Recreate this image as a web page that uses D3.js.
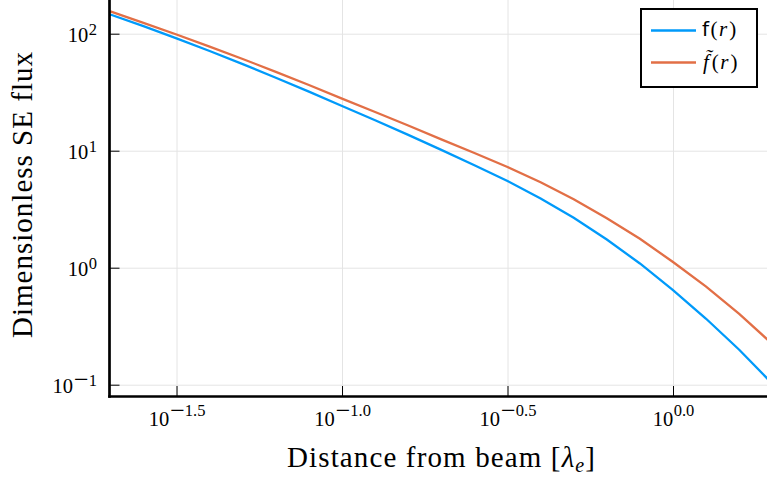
<!DOCTYPE html>
<html><head><meta charset="utf-8">
<script src="https://cdn.jsdelivr.net/npm/d3@7"></script>
<style>body{margin:0;background:#fff} svg{display:block}</style>
</head><body><svg id="c" width="767" height="479"></svg>
<script>
// distance from beam [lambda_e]
const distance = [0.01995, 0.02512, 0.03162, 0.03981, 0.05012, 0.0631, 0.07943, 0.1, 0.1259, 0.1585,
                  0.1995, 0.2512, 0.3162, 0.3981, 0.5012, 0.631, 0.7943, 1.0, 1.259, 1.585, 1.995];
// f(r)
const fluxF = [145.9, 115.9, 91.2, 71.1, 54.95, 42.07, 31.99, 24.10, 18.20, 13.65,
               10.16, 7.52, 5.51, 3.90, 2.67, 1.74, 1.087, 0.644, 0.366, 0.199, 0.102];
// f~(r)
const fluxFt = [154.9, 123.9, 98.4, 77.6, 60.8, 47.2, 36.4, 27.9, 21.4, 16.4,
                12.5, 9.55, 7.26, 5.38, 3.85, 2.65, 1.766, 1.119, 0.690, 0.403, 0.223];
const xTicks = [0.031623, 0.1, 0.316228, 1.0];
const xTickExp = [["\u2212", "1.5"], ["\u2212", "1.0"], ["\u2212", "0.5"], ["", "0.0"]];
const yTicks = [0.1, 1, 10, 100];
const yTickExp = [["\u2212", "1"], ["", "0"], ["", "1"], ["", "2"]];
const colF = "#009AFA", colFt = "#E26F46";

const svg = d3.select("#c");
const L = 109.5, R = 767, T = 0, B = 396;
const x = d3.scaleLog().domain([Math.pow(10, -1.7025), Math.pow(10, 0.284)]).range([L, R]);
const y = d3.scaleLog().domain([Math.pow(10, -1.0966), Math.pow(10, 2.288)]).range([B, T]);
const serif = "'Liberation Serif', 'Times New Roman', serif";

// grid
const gx = svg.append("g").attr("transform", `translate(0,${B})`)
  .call(d3.axisBottom(x).tickValues(xTicks).tickSize(-(B - T)).tickFormat(""));
gx.select(".domain").remove();
gx.selectAll("line").attr("stroke", "#e4e4e4").attr("stroke-width", 1);
const gy = svg.append("g").attr("transform", `translate(${L},0)`)
  .call(d3.axisLeft(y).tickValues(yTicks).tickSize(-(R - L)).tickFormat(""));
gy.select(".domain").remove();
gy.selectAll("line").attr("stroke", "#e4e4e4").attr("stroke-width", 1);

// lines
svg.append("clipPath").attr("id", "clip").append("rect")
  .attr("x", L).attr("y", T).attr("width", R - L).attr("height", B - T);
const line = d3.line().x(d => x(d[0])).y(d => y(d[1]));
const plot = svg.append("g").attr("clip-path", "url(#clip)");
plot.append("path").datum(distance.map((d, i) => [d, fluxF[i]]))
  .attr("d", line).attr("fill", "none").attr("stroke", colF).attr("stroke-width", 2.3);
plot.append("path").datum(distance.map((d, i) => [d, fluxFt[i]]))
  .attr("d", line).attr("fill", "none").attr("stroke", colFt).attr("stroke-width", 2.3);

function addPow(t, exp, dy) {
  t.append("tspan").text("10");
  if (exp[0]) {
    t.append("tspan").attr("dy", dy + 2.5).attr("dx", 1).attr("font-size", 26).text(exp[0]);
    t.append("tspan").attr("dy", -2.5).attr("font-size", 16.5).text(exp[1]);
  } else {
    t.append("tspan").attr("dy", dy).attr("dx", 0.5).attr("font-size", 16.5).text(exp[1]);
  }
}

// axes
const ax = svg.append("g").attr("transform", `translate(0,${B})`)
  .call(d3.axisBottom(x).tickValues(xTicks).tickSize(-10).tickSizeOuter(0).tickFormat(""));
ax.select(".domain").attr("stroke", "#000").attr("stroke-width", 2.7).attr("d", `M${L - 1.3},0.5H${R}`);
ax.selectAll(".tick line").attr("stroke", "#000").attr("stroke-width", 1);
ax.selectAll(".tick text").remove();
ax.selectAll(".tick").each(function(d, i) {
  const t = d3.select(this).append("text").attr("y", 29.5).attr("fill", "#000")
    .attr("text-anchor", "middle").attr("font-family", serif).attr("font-size", 20.5);
  addPow(t, xTickExp[i], -9.5);
});
const ay = svg.append("g").attr("transform", `translate(${L},0)`)
  .call(d3.axisLeft(y).tickValues(yTicks).tickSize(-10).tickSizeOuter(0).tickFormat(""));
ay.select(".domain").attr("stroke", "#000").attr("stroke-width", 2.7).attr("d", `M0,${T}V${B + 1.8}`);
ay.selectAll(".tick line").attr("stroke", "#000").attr("stroke-width", 1);
ay.selectAll(".tick text").remove();
ay.selectAll(".tick").each(function(d, i) {
  const t = d3.select(this).append("text").attr("x", -12.5).attr("y", 8).attr("fill", "#000")
    .attr("text-anchor", "end").attr("font-family", serif).attr("font-size", 20.5);
  addPow(t, yTickExp[i], -7.5);
});

// axis titles
const xt = svg.append("text").attr("x", 441).attr("y", 467).attr("text-anchor", "middle")
  .attr("font-family", serif).attr("font-size", 29).attr("fill", "#000")
  .attr("textLength", 308).attr("lengthAdjust", "spacing");
xt.append("tspan").text("Distance from beam [");
xt.append("tspan").attr("font-style", "italic").text("\u03bb");
xt.append("tspan").attr("font-style", "italic").attr("font-size", 20).attr("dy", 5).text("e");
xt.append("tspan").attr("dy", -5).text("]");

svg.append("text").attr("transform", "translate(32,195) rotate(-90)").attr("text-anchor", "middle")
  .attr("font-family", serif).attr("font-size", 29).attr("fill", "#000")
  .attr("textLength", 286).attr("lengthAdjust", "spacing")
  .text("Dimensionless SE flux");

// legend
const lg = svg.append("g");
lg.append("rect").attr("x", 641).attr("y", 9).attr("width", 116).attr("height", 78)
  .attr("fill", "#fff").attr("stroke", "#000").attr("stroke-width", 2);
const legRows = [
  {c: colF, y: 30.5},
  {c: colFt, y: 62.5}
];
legRows.forEach(r => {
  lg.append("line").attr("x1", 651).attr("x2", 696).attr("y1", r.y).attr("y2", r.y)
    .attr("stroke", r.c).attr("stroke-width", 2.3);
});
const l1 = lg.append("text").attr("x", 702).attr("y", 36).attr("font-family", serif)
  .attr("font-size", 21).attr("fill", "#000");
l1.append("tspan").attr("font-family", "'DejaVu Sans', sans-serif").attr("font-size", 20).text("f");
l1.append("tspan").attr("dx", 1.5).text("(");
l1.append("tspan").attr("font-style", "italic").attr("dx", 1.5).text("r");
l1.append("tspan").attr("dx", 2).text(")");
const l2 = lg.append("text").attr("x", 702).attr("y", 68.5).attr("font-family", serif)
  .attr("font-size", 21).attr("fill", "#000");
l2.append("tspan").attr("font-style", "italic").attr("dx", 1).text("f\u0303");
l2.append("tspan").attr("dx", 3).text("(");
l2.append("tspan").attr("font-style", "italic").attr("dx", 1.5).text("r");
l2.append("tspan").attr("dx", 2).text(")");
</script></body></html>
